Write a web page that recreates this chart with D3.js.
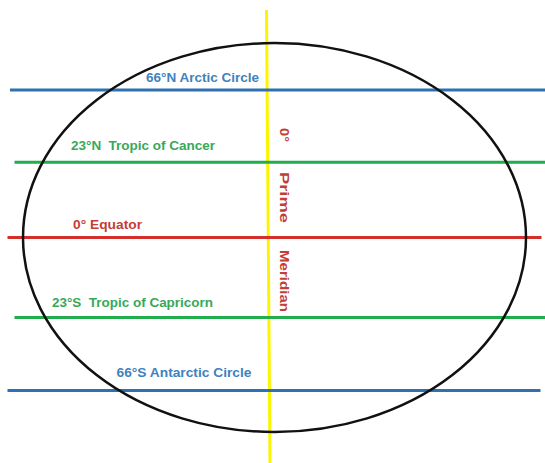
<!DOCTYPE html>
<html><head><meta charset="utf-8">
<script src="https://cdn.jsdelivr.net/npm/d3@7"></script>
<style>html,body{margin:0;padding:0;background:#fff;}svg{display:block;}text{white-space:pre;}</style>
</head><body>
<svg id="c" width="545" height="463"></svg>
<script>
// Data
const latitudes = [66, 23, 0, -23, -66];
const circleNames = ["66°N Arctic Circle", "23°N  Tropic of Cancer", "0° Equator", "23°S  Tropic of Capricorn", "66°S Antarctic Circle"];
const circleKinds = ["polar", "tropic", "equator", "tropic", "polar"];
const meridianWords = ["0°", "Prime", "Meridian"];

// Layout / style (not data)
const W = 545, H = 463;
const svg = d3.select("#c");
const y = d3.scaleLinear().domain([-66, -23, 0, 23, 66]).range([390.5, 317.5, 237.5, 162.3, 90]);
const lineColor = {polar: "#2f71b0", tropic: "#22ad4c", equator: "#d3302b"};
const textColor = {polar: "#3f82bd", tropic: "#36a95a", equator: "#c63c36"};
const lineX = [[10, 545], [14.5, 545], [7.5, 541.5], [14.5, 545], [7.5, 540.5]];
const labelX = [146, 71, 73, 52, 116.5];
const labelW = [113, 144, 69, 161, 135];
const labelDy = [-8, -12.5, -8.5, -11, -14];

// Prime meridian
svg.append("line").attr("x1", 266.5).attr("y1", 10).attr("x2", 270).attr("y2", H)
  .attr("stroke", "#fbf500").attr("stroke-width", 3);

// Parallels
svg.selectAll("line.lat").data(latitudes).join("line").attr("class", "lat")
  .attr("x1", (d, i) => lineX[i][0]).attr("x2", (d, i) => lineX[i][1])
  .attr("y1", d => y(d)).attr("y2", d => y(d))
  .attr("stroke", (d, i) => lineColor[circleKinds[i]]).attr("stroke-width", 3);

// Globe outline
svg.append("ellipse").attr("cx", 274.5).attr("cy", y(0)).attr("rx", 251.5).attr("ry", 194.5)
  .attr("fill", "none").attr("stroke", "#111").attr("stroke-width", 2.5);

// Labels
svg.selectAll("text.lat").data(latitudes).join("text").attr("class", "lat")
  .attr("xml:space", "preserve")
  .attr("x", (d, i) => labelX[i]).attr("y", (d, i) => y(d) + labelDy[i])
  .attr("textLength", (d, i) => labelW[i]).attr("lengthAdjust", "spacingAndGlyphs")
  .attr("font-family", "Liberation Sans, Arial, sans-serif").attr("font-weight", "bold")
  .attr("font-size", 13.5).attr("fill", (d, i) => textColor[circleKinds[i]])
  .text((d, i) => circleNames[i]);

// Vertical meridian label
const vStart = [128, 172, 250];
const vLen = [14, 51, 62];
svg.selectAll("text.mer").data(meridianWords).join("text").attr("class", "mer")
  .attr("transform", (d, i) => `translate(279.5,${vStart[i]}) rotate(90)`)
  .attr("textLength", (d, i) => vLen[i]).attr("lengthAdjust", "spacingAndGlyphs")
  .attr("font-family", "Liberation Sans, Arial, sans-serif").attr("font-weight", "bold")
  .attr("font-size", 13.5).attr("fill", textColor.equator)
  .text(d => d);
</script>
</body></html>
